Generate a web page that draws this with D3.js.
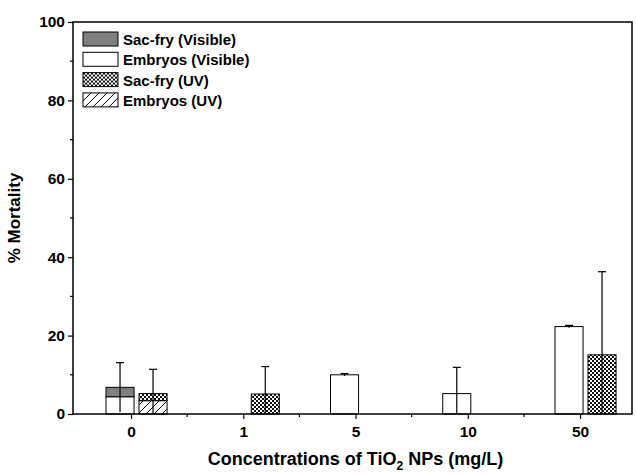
<!DOCTYPE html>
<html>
<head>
<meta charset="utf-8">
<script src="https://cdn.jsdelivr.net/npm/d3@7"></script>
<style>
  body { margin: 0; background: #fff; }
  text { font-family: Arial, "Liberation Sans", sans-serif; font-weight: bold; fill: #000; }
</style>
</head>
<body>
<script>
var w = 636;
var h = 474;

// data
var categories = ["0", "1", "5", "10", "50"];
var embryosVisible = [4.4, 0, 10.0, 5.2, 22.3];
var sacFryVisible = [2.4, 0, 0, 0, 0];
var errVisible = [6.3, 0, 0.3, 6.7, 0.3];
var embryosUV = [3.4, 0, 0, 0, 0];
var sacFryUV = [1.8, 5.1, 0, 0, 15.1];
var errUV = [6.2, 7.0, 0, 0, 21.2];
var yTicks = [0, 20, 40, 60, 80, 100];
var yMinor = [10, 30, 50, 70, 90];
var legendNames = ["Sac-fry (Visible)", "Embryos (Visible)", "Sac-fry (UV)", "Embryos (UV)"];

var plotL = 73, plotR = 632, plotT = 22, plotB = 414;

var svg = d3.select("body")
            .append("svg")
              .attr("width", w)
              .attr("height", h);

var defs = svg.append("defs");
var chk = defs.append("pattern")
    .attr("id", "checker")
    .attr("patternUnits", "userSpaceOnUse")
    .attr("width", 4).attr("height", 4);
chk.append("rect").attr("width", 4).attr("height", 4).attr("fill", "#fff");
chk.append("rect").attr("width", 2).attr("height", 2).attr("fill", "#111");
chk.append("rect").attr("x", 2).attr("y", 2).attr("width", 2).attr("height", 2).attr("fill", "#111");

var hatch = defs.append("pattern")
    .attr("id", "hatch")
    .attr("patternUnits", "userSpaceOnUse")
    .attr("width", 8).attr("height", 8);
hatch.append("rect").attr("width", 8).attr("height", 8).attr("fill", "#fff");
hatch.append("path").attr("d", "M-2,2 L2,-2 M0,8 L8,0 M6,10 L10,6")
    .attr("stroke", "#000").attr("stroke-width", 1);

var fills = ["#808080", "#ffffff", "url(#checker)", "url(#hatch)"];

var x = d3.scaleLinear().domain([-0.517, 4.463]).range([plotL, plotR]);
var y = d3.scaleLinear().domain([0, 100]).range([plotB, plotT]);

// bar placement relative to each category tick (in category units)
var barW = 0.25;
var visOff = -0.223;
var uvOff = 0.071;

function stack(lowVals, highVals) {
  return categories.map(function(c, i) {
    return { i: i, lo: lowVals[i], hi: highVals[i] };
  });
}

var visData = stack(embryosVisible, sacFryVisible);
var uvData = stack(embryosUV, sacFryUV);

function drawBars(data, off, lowFill, highFill) {
  var g = svg.append("g");
  data.forEach(function(d) {
    var x0 = x(d.i + off);
    var bw = x(d.i + off + barW) - x0;
    if (d.lo > 0) {
      g.append("rect")
        .attr("x", x0).attr("y", y(d.lo))
        .attr("width", bw).attr("height", y(0) - y(d.lo))
        .attr("fill", lowFill).attr("stroke", "#000").attr("stroke-width", 1);
    }
    if (d.hi > 0) {
      g.append("rect")
        .attr("x", x0).attr("y", y(d.lo + d.hi))
        .attr("width", bw).attr("height", y(d.lo) - y(d.lo + d.hi))
        .attr("fill", highFill).attr("stroke", "#000").attr("stroke-width", 1);
    }
  });
}

function drawErr(data, errs, off) {
  var g = svg.append("g").attr("stroke", "#000").attr("stroke-width", 1.2);
  data.forEach(function(d, i) {
    var e = errs[i];
    if (!e) return;
    var v = d.lo + d.hi;
    var cx = x(d.i + off + barW / 2);
    g.append("line")
      .attr("x1", cx).attr("x2", cx)
      .attr("y1", y(Math.max(0, v - e))).attr("y2", y(v + e));
    g.append("line")
      .attr("x1", cx - 4).attr("x2", cx + 4)
      .attr("y1", y(v + e)).attr("y2", y(v + e));
  });
}

drawBars(visData, visOff, fills[1], fills[0]);
drawBars(uvData, uvOff, fills[3], fills[2]);
drawErr(visData, errVisible, visOff);
drawErr(uvData, errUV, uvOff);

// frame
svg.append("rect")
  .attr("x", plotL).attr("y", plotT)
  .attr("width", plotR - plotL).attr("height", plotB - plotT)
  .attr("fill", "none").attr("stroke", "#000").attr("stroke-width", 1.5);

// y axis
var yAxis = d3.axisLeft(y).tickValues(yTicks).tickSize(5).tickPadding(3);
var gy = svg.append("g").attr("transform", "translate(" + plotL + ",0)").call(yAxis);
gy.select(".domain").remove();
gy.selectAll("line").attr("stroke", "#000").attr("stroke-width", 1.2);
gy.selectAll("text").style("font-size", "15.5px").style("font-family", "Arial, 'Liberation Sans', sans-serif").style("font-weight", "bold");
svg.append("g").selectAll("line")
  .data(yMinor).enter().append("line")
    .attr("x1", plotL - 3).attr("x2", plotL)
    .attr("y1", function(d) { return y(d); })
    .attr("y2", function(d) { return y(d); })
    .attr("stroke", "#000").attr("stroke-width", 1.2);

// x axis
var xAxis = d3.axisBottom(x)
  .tickValues(d3.range(categories.length))
  .tickFormat(function(d) { return categories[d]; })
  .tickSize(5).tickPadding(7);
var gx = svg.append("g").attr("transform", "translate(0," + plotB + ")").call(xAxis);
gx.select(".domain").remove();
gx.selectAll("line").attr("stroke", "#000").attr("stroke-width", 1.2);
gx.selectAll("text").style("font-size", "15.5px").style("font-family", "Arial, 'Liberation Sans', sans-serif").style("font-weight", "bold");
svg.append("g").selectAll("line")
  .data(d3.range(categories.length - 1)).enter().append("line")
    .attr("x1", function(d) { return x(d + 0.5); })
    .attr("x2", function(d) { return x(d + 0.5); })
    .attr("y1", plotB).attr("y2", plotB + 3)
    .attr("stroke", "#000").attr("stroke-width", 1.2);

// axis titles
svg.append("text")
  .attr("transform", "translate(20," + ((plotT + plotB) / 2) + ") rotate(-90)")
  .attr("text-anchor", "middle")
  .style("font-size", "17px")
  .text("% Mortality");

var xt = svg.append("text")
  .attr("x", (plotL + plotR) / 2 + 3).attr("y", 465)
  .attr("text-anchor", "middle")
  .style("font-size", "18px");
xt.append("tspan").text("Concentrations of TiO");
xt.append("tspan").attr("dy", 5).style("font-size", "12px").text("2");
xt.append("tspan").attr("dy", -5).text(" NPs (mg/L)");

// legend
var lg = svg.append("g").attr("transform", "translate(83,32)");
var items = lg.selectAll("g")
  .data(legendNames).enter().append("g")
    .attr("transform", function(d, i) { return "translate(0," + (i * 20.3) + ")"; });
items.append("rect")
  .attr("width", 35).attr("height", 14)
  .attr("fill", function(d, i) { return fills[i]; })
  .attr("stroke", "#000").attr("stroke-width", 1);
items.append("text")
  .attr("x", 40).attr("y", 13)
  .style("font-size", "15px")
  .text(function(d) { return d; });
</script>
</body>
</html>
